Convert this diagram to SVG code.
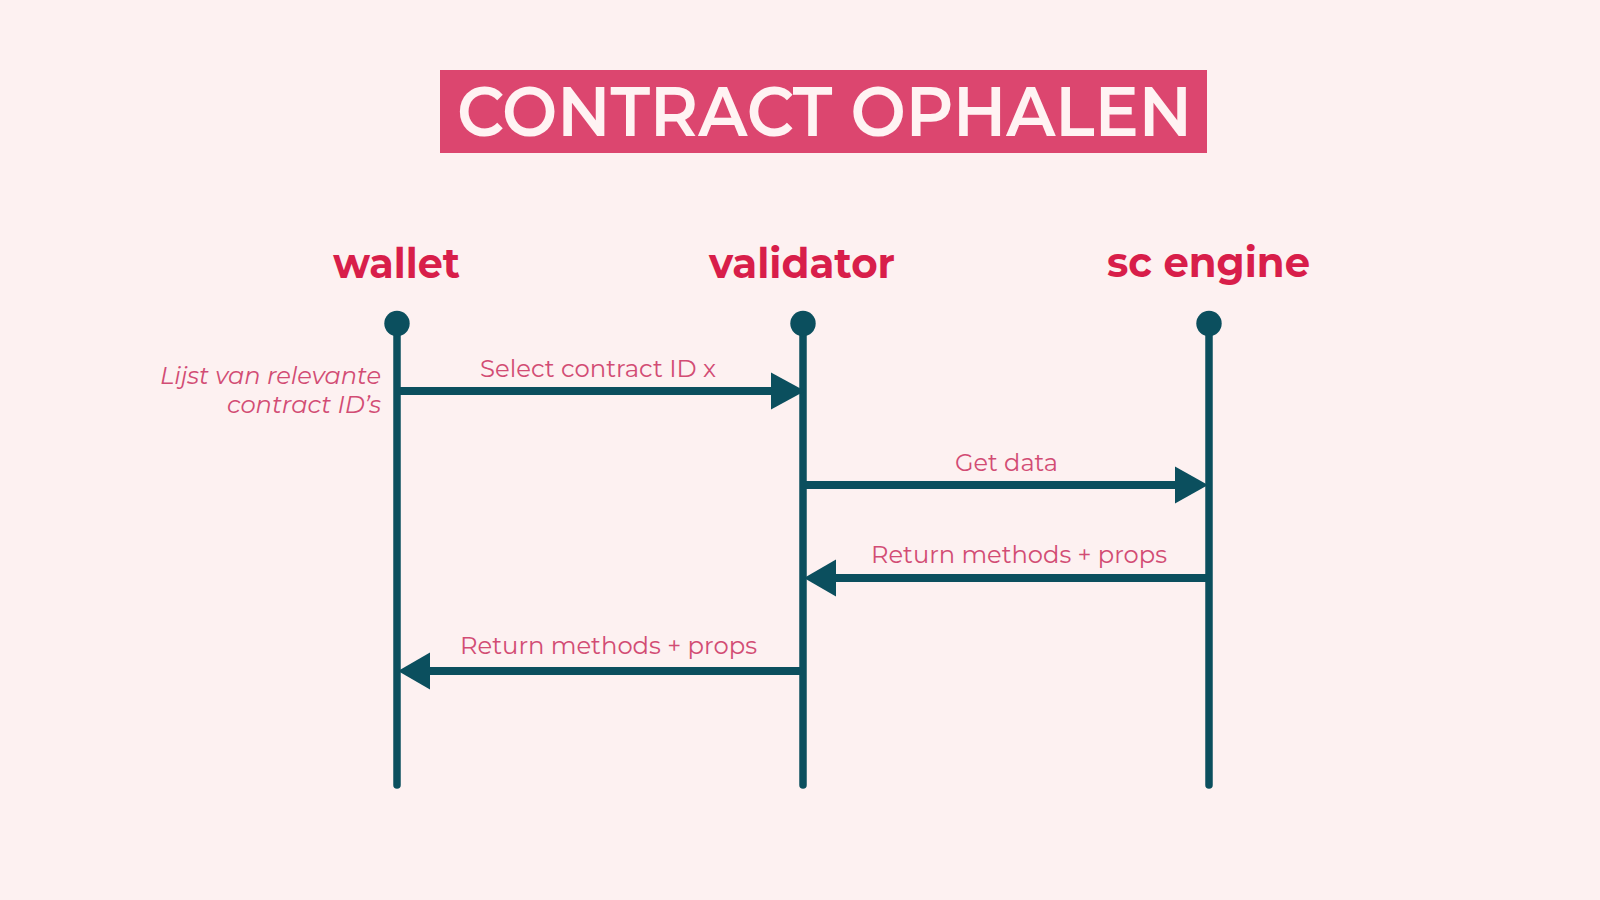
<svg xmlns="http://www.w3.org/2000/svg" width="1600" height="900" viewBox="0 0 1600 900">
<defs>
<style>
.life{stroke:#0B4F5E;stroke-width:7.5;stroke-linecap:round;fill:none}
.dot{fill:#0B4F5E}
.msg{stroke:#0B4F5E;stroke-width:8;fill:none}
.head{fill:#0B4F5E}
.actor{font-family:Montserrat,"Open Sans","Liberation Sans",sans-serif;font-weight:700;font-size:42px;fill:#D81E4A;text-anchor:middle}
.lbl{font-family:Montserrat,"Open Sans","Liberation Sans",sans-serif;font-size:24px;fill:#D24C74;text-anchor:middle}
.note{font-family:Montserrat,"Open Sans","Liberation Sans",sans-serif;font-style:italic;font-size:24px;fill:#D24C74;text-anchor:end}
.title{font-family:Montserrat,"Open Sans","Liberation Sans",sans-serif;font-weight:600;font-size:70px;fill:#FFF3F3;text-anchor:middle}
</style>
</defs>
<rect width="1600" height="900" fill="#FDF1F1"/>
<g id="title">
<rect x="440" y="70" width="767" height="83" fill="#DC466F"/>
<text class="title" x="824.5" y="136" textLength="735" lengthAdjust="spacingAndGlyphs">CONTRACT OPHALEN</text>
</g>
<g id="wallet">
<text class="actor" x="396.5" y="278" textLength="127" lengthAdjust="spacingAndGlyphs">wallet</text>
<line class="life" x1="397" y1="323" x2="397" y2="785"/>
<circle class="dot" cx="397" cy="323.5" r="12.7"/>
<text class="note" x="381" y="384" textLength="221" lengthAdjust="spacingAndGlyphs">Lijst van relevante</text>
<text class="note" x="381" y="413" textLength="154" lengthAdjust="spacingAndGlyphs">contract ID’s</text>
</g>
<g id="validator">
<text class="actor" x="802" y="278" textLength="186" lengthAdjust="spacingAndGlyphs">validator</text>
<line class="life" x1="803" y1="323" x2="803" y2="785"/>
<circle class="dot" cx="803" cy="323.5" r="12.7"/>
</g>
<g id="sc-engine">
<text class="actor" x="1208.5" y="277" textLength="203" lengthAdjust="spacingAndGlyphs">sc engine</text>
<line class="life" x1="1209" y1="323" x2="1209" y2="785"/>
<circle class="dot" cx="1209" cy="323.5" r="12.7"/>
</g>
<g id="connectors">
<line class="msg" x1="397" y1="391" x2="772" y2="391"/>
<polygon class="head" points="805,391 771,372.5 771,409.5"/>
<text class="lbl" x="598" y="377" textLength="236" lengthAdjust="spacingAndGlyphs">Select contract ID x</text>

<line class="msg" x1="803" y1="485" x2="1177" y2="485"/>
<polygon class="head" points="1208,485 1175,466.5 1175,503.5"/>
<text class="lbl" x="1006.5" y="471" textLength="103" lengthAdjust="spacingAndGlyphs">Get data</text>

<line class="msg" x1="1209" y1="578" x2="834" y2="578"/>
<polygon class="head" points="804,578 836,559.5 836,596.5"/>
<text class="lbl" x="1019" y="563" textLength="296" lengthAdjust="spacingAndGlyphs">Return methods + props</text>

<line class="msg" x1="803" y1="671" x2="428" y2="671"/>
<polygon class="head" points="398,671 430,652.5 430,689.5"/>
<text class="lbl" x="608.5" y="654" textLength="297" lengthAdjust="spacingAndGlyphs">Return methods + props</text>
</g>
</svg>
